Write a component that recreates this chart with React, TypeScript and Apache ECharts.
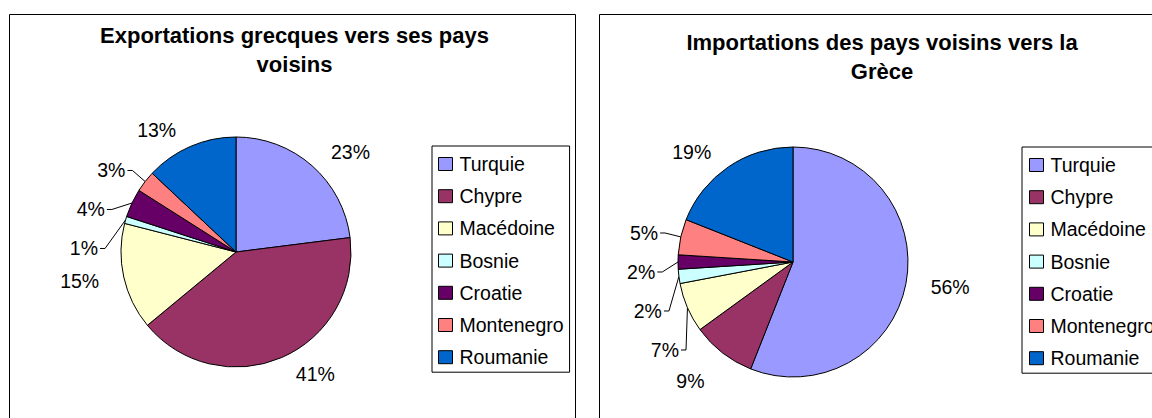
import React, { useEffect, useRef } from "react";
import * as echarts from "echarts";

const countries = ["Turquie", "Chypre", "Macédoine", "Bosnie", "Croatie", "Montenegro", "Roumanie"];
const exportShares = [23, 41, 15, 1, 4, 3, 13];
const importShares = [56, 9, 7, 2, 2, 5, 19];
const colors = ["#9999FF", "#993366", "#FFFFCC", "#CCFFFF", "#660066", "#FF8080", "#0066CC"];
const exportTitle = "Exportations grecques vers ses pays\nvoisins";
const importTitle = "Importations des pays voisins vers la\nGrèce";

const FONT = "Liberation Sans, Arial, sans-serif";

function buildData(values: number[]) {
  return countries.map((name, i) => {
    const small = values[i] < 8;
    return {
      name,
      value: values[i],
      itemStyle: { color: colors[i] },
      label: { lineHeight: small ? 37 : 22 },
      labelLine: { show: small },
    };
  });
}

function pieSeries(values: number[], center: [number, number]) {
  return {
    type: "pie",
    center,
    radius: 115,
    startAngle: 90,
    clockwise: true,
    avoidLabelOverlap: true,
    data: buildData(values),
    itemStyle: { borderColor: "#000", borderWidth: 1 },
    label: {
      show: true,
      position: "outside",
      formatter: (p: any) => `${p.value}%`,
      fontFamily: FONT,
      fontSize: 19.5,
      color: "#000",
      distanceToLabelLine: 2,
    },
    labelLine: {
      show: true,
      length: 18,
      length2: 5,
      lineStyle: { color: "#000", width: 1 },
    },
    emphasis: { disabled: true },
  };
}

function legend(left: number, top: number, padding: number[]) {
  return {
    orient: "vertical",
    left,
    top,
    data: countries,
    icon: "rect",
    itemWidth: 14,
    itemHeight: 13,
    itemGap: 12.2,
    padding,
    borderColor: "#000",
    borderWidth: 1,
    selectedMode: false,
    itemStyle: { borderColor: "#000", borderWidth: 1 },
    textStyle: {
      fontFamily: FONT,
      fontSize: 19.5,
      lineHeight: 20,
      color: "#000",
      padding: [0, 0, 0, 2],
    },
  };
}

export default function App() {
  const ref = useRef<HTMLDivElement>(null);
  useEffect(() => {
    if (!ref.current) return;
    const chart = echarts.init(ref.current, null, { renderer: "svg" });
    chart.setOption({
      animation: false,
      backgroundColor: "#fff",
      graphic: [
        {
          type: "rect",
          shape: { x: 9.5, y: 14.5, width: 566, height: 420 },
          style: { fill: "none", stroke: "#000", lineWidth: 1 },
          z: -1,
        },
        {
          type: "rect",
          shape: { x: 599.5, y: 14.5, width: 600, height: 420 },
          style: { fill: "none", stroke: "#000", lineWidth: 1 },
          z: -1,
        },
        {
          type: "text",
          x: 294.5,
          y: 21,
          style: {
            text: exportTitle,
            textAlign: "center",
            textVerticalAlign: "top",
            fontFamily: FONT,
            fontWeight: "bold",
            fontSize: 22,
            lineHeight: 29,
            fill: "#000",
          },
        },
        {
          type: "text",
          x: 882,
          y: 28,
          style: {
            text: importTitle,
            textAlign: "center",
            textVerticalAlign: "top",
            fontFamily: FONT,
            fontWeight: "bold",
            fontSize: 22,
            lineHeight: 29,
            fill: "#000",
          },
        },
      ],
      legend: [legend(432, 146, [8, 6, 5, 6]), legend(1022, 147, [8, 6, 5, 7])],
      series: [pieSeries(exportShares, [236, 252]), pieSeries(importShares, [793, 262])],
    });
    return () => chart.dispose();
  }, []);
  return (
    <div
      ref={ref}
      style={{ position: "absolute", left: 0, top: 0, width: 1152, height: 418 }}
    />
  );
}
